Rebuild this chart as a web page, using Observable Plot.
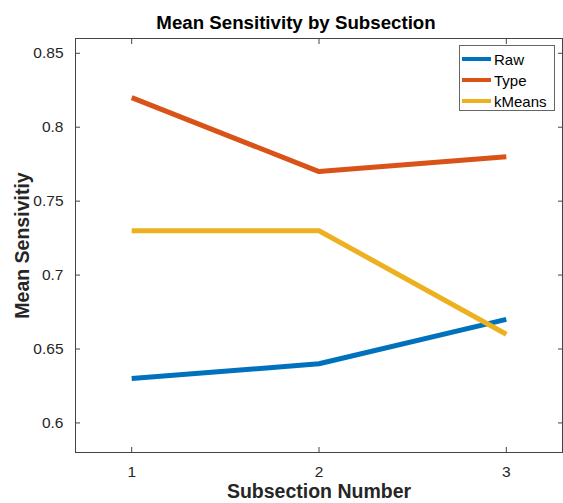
<!DOCTYPE html>
<html>
<head>
<meta charset="utf-8">
<script src="https://cdn.jsdelivr.net/npm/d3@7"></script>
<script src="https://cdn.jsdelivr.net/npm/@observablehq/plot@0.6"></script>
<style>
  body { margin: 0; background: #fff; font-family: "Liberation Sans", Arial, sans-serif; }
  #wrap { position: relative; width: 563px; height: 503px; overflow: hidden; }
  #chart { position: absolute; left: 0; top: 0; z-index: 1; }
  #title { position: absolute; left: 296px; top: 12px; transform: translateX(-50%); font-weight: bold; font-size: 18.7px; white-space: nowrap; color: #000; z-index: 2; }
  #legend { position: absolute; left: 459px; top: 45px; width: 96px; height: 66px; border: 1px solid #666; background: #fff; box-sizing: border-box; z-index: 3; }
  .row { position: absolute; left: 2px; height: 20px; display: flex; align-items: center; font-size: 15px; color: #000; }
  .sw { width: 29px; height: 4px; margin-right: 3px; }
</style>
</head>
<body>
<div id="wrap">
  <div id="chart"></div>
  <div id="title"></div>
  <div id="legend"></div>
</div>
<script>
const subsections = [1, 2, 3];
const seriesNames = ["Raw", "Type", "kMeans"];
const rawValues = [0.63, 0.64, 0.67];
const typeValues = [0.82, 0.77, 0.78];
const kMeansValues = [0.73, 0.73, 0.66];
const seriesColors = ["#0072BD", "#D95319", "#EDB120"];
const xTicks = [1, 2, 3];
const xTickLabels = ["1", "2", "3"];
const yTicks = [0.6, 0.65, 0.7, 0.75, 0.8, 0.85];
const yTickLabels = ["0.6", "0.65", "0.7", "0.75", "0.8", "0.85"];
const titleText = "Mean Sensitivity by Subsection";
const xLabel = "Subsection Number";
const yLabel = "Mean Sensivitiy";

const valuesBySeries = [rawValues, typeValues, kMeansValues];
const data = [];
seriesNames.forEach((name, i) => {
  subsections.forEach((s, j) => data.push({series: name, x: s, y: valuesBySeries[i][j]}));
});

const axisColor = "#444";
const plot = Plot.plot({
  width: 563,
  height: 503,
  marginLeft: 75,
  marginRight: 1,
  marginTop: 38,
  marginBottom: 51,
  style: {fontFamily: "Liberation Sans, Arial, sans-serif", background: "#fff"},
  x: {domain: [0.7, 3.3]},
  y: {domain: [0.58, 0.86]},
  color: {domain: seriesNames, range: seriesColors},
  marks: [
    Plot.frame({stroke: axisColor, strokeWidth: 1}),
    // inward tick marks on all four sides
    Plot.axisX({ticks: xTicks, anchor: "bottom", tickSize: -5, text: null, label: null, stroke: axisColor}),
    Plot.axisX({ticks: xTicks, anchor: "top", tickSize: -5, text: null, label: null, stroke: axisColor}),
    Plot.axisY({ticks: yTicks, anchor: "left", tickSize: -5, text: null, label: null, stroke: axisColor}),
    Plot.axisY({ticks: yTicks, anchor: "right", tickSize: -5, text: null, label: null, stroke: axisColor}),
    // tick labels
    Plot.axisX({ticks: xTicks, anchor: "bottom", tickSize: 0, tickPadding: 13, label: null, fontSize: 15.5, fill: "#262626",
      tickFormat: d => xTickLabels[xTicks.indexOf(d)]}),
    Plot.axisY({ticks: yTicks, anchor: "left", tickSize: 0, tickPadding: 12, label: null, fontSize: 15.5, fill: "#262626",
      tickFormat: d => yTickLabels[yTicks.indexOf(d)]}),
    // axis titles
    Plot.text([xLabel], {frameAnchor: "bottom", dy: 39, lineAnchor: "middle", text: d => d, fontSize: 19.5, fontWeight: "bold", fill: "#262626"}),
    Plot.text([yLabel], {frameAnchor: "left", textAnchor: "middle", dx: -53, rotate: -90, text: d => d, fontSize: 19.5, fontWeight: "bold", fill: "#262626"}),
    Plot.line(data, {x: "x", y: "y", z: "series", stroke: "series", strokeWidth: 5, strokeLinecap: "butt", strokeLinejoin: "miter"})
  ]
});
document.getElementById("chart").appendChild(plot);

const legend = document.getElementById("legend");
seriesNames.forEach((name, i) => {
  const row = document.createElement("div");
  row.className = "row";
  row.style.top = (3 + i * 21) + "px";
  const sw = document.createElement("div");
  sw.className = "sw";
  sw.style.background = seriesColors[i];
  const t = document.createElement("span");
  t.textContent = name;
  row.appendChild(sw);
  row.appendChild(t);
  legend.appendChild(row);
});
document.getElementById("title").textContent = titleText;
</script>
</body>
</html>
